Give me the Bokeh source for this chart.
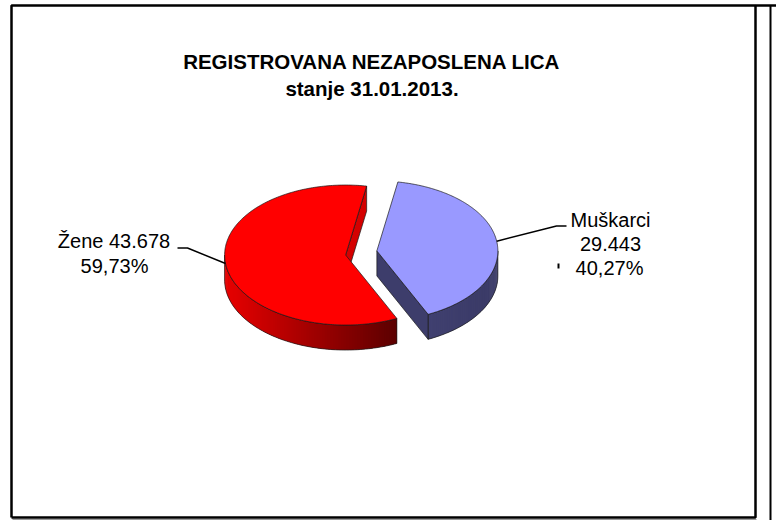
import numpy as np
from bokeh.plotting import figure
from bokeh.models import Range1d
from bokeh.core.properties import value
from bokeh.embed import file_html
from bokeh.resources import INLINE

# ---- data ----
categories = ["Muškarci", "Žene"]
counts = [29443, 43678]
count_labels = ["29.443", "43.678"]
pct_labels = ["40,27%", "59,73%"]
title_lines = ["REGISTROVANA NEZAPOSLENA LICA", "stanje 31.01.2013."]

# ---- layout / style ----
W, H = 776, 520
FONT = value("Liberation Sans")
top_colors = ["#9999FF", "#FF0000"]
cut_colors = ["#3d3d6b", "#d40000"]
side_left = [(0x40, 0x40, 0x70), (0xE8, 0x00, 0x00)]
side_right = [(0x3a, 0x3a, 0x66), (0x5c, 0x00, 0x00)]
EDGE = "#1a1a1a"

cx0, cy0 = 360.5, 252.5
A, B, DEPTH = 121.0, 70.0, 25.0
explode = [16.0, 15.5]
start_deg = 80.0  # slices go clockwise from here

p = figure(width=W, height=H, x_range=Range1d(0, W), y_range=Range1d(H, 0),
           output_backend="svg", toolbar_location=None, min_border=0,
           x_axis_location=None, y_axis_location=None)
p.grid.visible = False
p.outline_line_color = None
p.background_fill_color = "white"
p.border_fill_color = "white"

vals = np.array(counts, dtype=float)
fracs = vals / vals.sum()

slices = []
cur = start_deg
for i, f in enumerate(fracs):
    t1 = cur
    t0 = cur - f * 360.0
    cur = t0
    mid = np.radians((t0 + t1) / 2)
    cx = cx0 + explode[i] * np.cos(mid)
    cy = cy0 - explode[i] * np.sin(mid)
    slices.append((t0, t1, cx, cy))


def rim(cx, cy, t_deg):
    t = np.radians(t_deg)
    return cx + A * np.cos(t), cy - B * np.sin(t)


# side walls and cut faces first
for i, (t0, t1, cx, cy) in enumerate(slices):
    segs = []
    for k in range(-2, 3):
        lo, hi = 180 + 360 * k, 360 + 360 * k
        a0, a1 = max(t0, lo), min(t1, hi)
        if a1 > a0:
            segs.append((a0, a1))
    for (a0, a1) in segs:
        n = 90
        ts = np.linspace(a0, a1, n)
        xs, ys = rim(cx, cy, ts)
        xmin, xmax = xs.min(), xs.max()
        pxs, pys, cols = [], [], []
        for j in range(n - 1):
            k2 = min(j + 2, n - 1)
            xm = (xs[j] + xs[j + 1]) / 2
            u = (xm - xmin) / (xmax - xmin) if xmax > xmin else 0
            c = tuple(int(round(side_left[i][m] + (side_right[i][m] - side_left[i][m]) * u)) for m in range(3))
            cols.append("#%02x%02x%02x" % c)
            seg_x = list(xs[j:k2 + 1])
            seg_y = list(ys[j:k2 + 1])
            pxs.append(seg_x + seg_x[::-1])
            pys.append(seg_y + [y + DEPTH for y in seg_y[::-1]])
        p.patches(pxs, pys, fill_color=cols, line_color=None)
        ox = list(xs) + list(xs[::-1])
        oy = list(ys) + list((ys + DEPTH)[::-1])
        p.patch(ox, oy, fill_color=None, line_color=EDGE, line_width=0.7)
    for t, is_start in ((t0, True), (t1, False)):
        c = np.cos(np.radians(t))
        visible = c > 0 if is_start else c < 0
        if visible:
            rx, ry = rim(cx, cy, t)
            p.patch([cx, rx, rx, cx], [cy, ry, ry + DEPTH, cy + DEPTH],
                    fill_color=cut_colors[i], line_color=EDGE, line_width=0.7)

# top faces
for i, (t0, t1, cx, cy) in enumerate(slices):
    ts = np.linspace(t0, t1, 200)
    xs, ys = rim(cx, cy, ts)
    p.patch([cx] + list(xs), [cy] + list(ys), fill_color=top_colors[i],
            line_color=EDGE, line_width=0.7)

# leader lines
mt0, mt1, mcx, mcy = slices[0]
ax, ay = rim(mcx, mcy, 8.0)
p.line([ax, 556, 566], [ay, 225.5, 225.5], line_color="black", line_width=1.5)
p.line([558, 558], [263, 268], line_color="black", line_width=2)
zt0, zt1, zcx, zcy = slices[1]
bx, by = rim(zcx, zcy, 187.0)
p.line([bx, 187, 177], [by, 247.5, 247.5], line_color="black", line_width=1.5)

# labels
p.text(x=[610, 610, 609], y=[219, 243, 267],
       text=[categories[0], count_labels[0], pct_labels[0]],
       text_font=FONT, text_font_size="20px", text_align="center",
       text_baseline="middle", text_color="black")
p.text(x=[113.5, 114], y=[240, 265],
       text=[categories[1] + " " + count_labels[1], pct_labels[1]],
       text_font=FONT, text_font_size="20px", text_align="center",
       text_baseline="middle", text_color="black")

# title
p.text(x=[371.5, 371.5], y=[61, 88], text=title_lines, text_font=FONT,
       text_font_size="20.5px", text_font_style="bold", text_align="center",
       text_baseline="middle", text_color="black")

# frame
fx0, fx1, fy0, fy1 = 11, 755, 5, 517
p.line([fx0, fx0, fx1, fx1, fx0], [fy1, fy0, fy0, fy1, fy1], line_color="black", line_width=2.5)
p.line([fx0 + 1, fx1 + 1], [fy1 + 2, fy1 + 2], line_color="#9a9a9a", line_width=1)
p.line([fx1, W], [fy0, fy0], line_color="black", line_width=2.5)
p.line([770, 770], [fy0, H], line_color="black", line_width=2)

open("out.html", "w").write(file_html(p, INLINE))
